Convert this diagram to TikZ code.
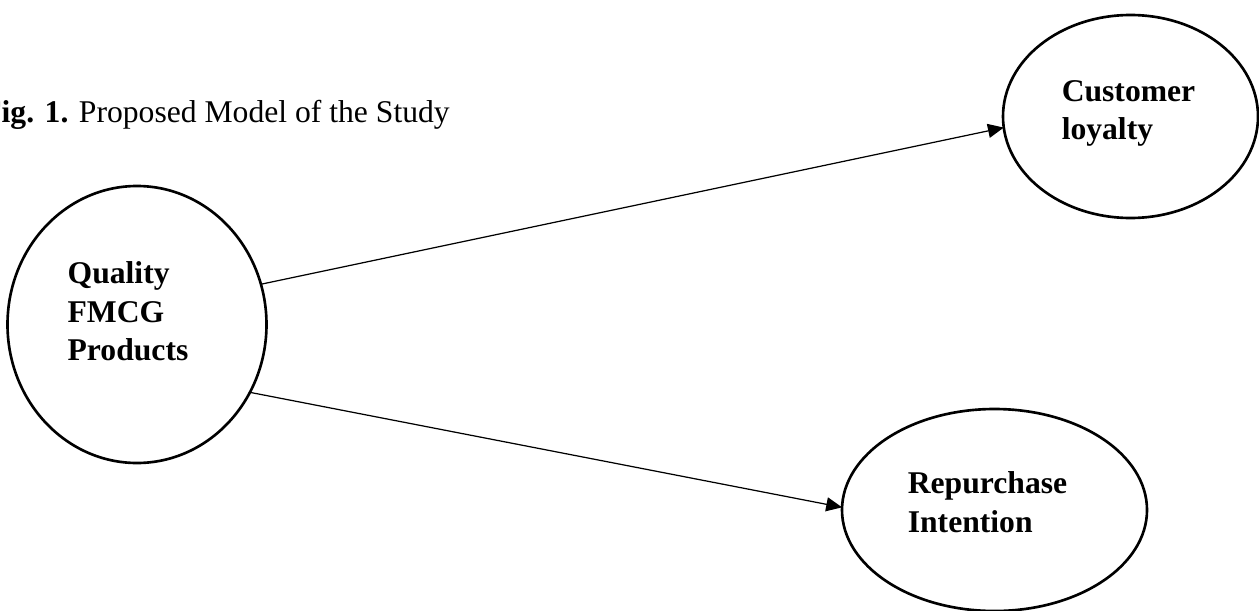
\documentclass[tikz,border=0pt]{standalone}
\usepackage{fontspec}
\setmainfont{Liberation Serif}
\usepackage{xcolor}
\usepackage{tikz}
\usetikzlibrary{
  shapes.geometric, arrows.meta, calc
}
\definecolor{inkblack}{RGB}{0,0,0}
\tikzset{
  construct/.style={
    ellipse, draw=inkblack, line width=1.5pt, outer sep=0pt, inner sep=2pt
  },
  conlabel/.style={
    align=left, inner sep=0pt, label distance=0pt,
    font=\fontsize{18}{22}\selectfont\bfseries, text=inkblack
  },
  caption/.style={
    anchor=base west, inner sep=0pt, font=\fontsize{18}{22}\selectfont,
    text=inkblack
  },
  arrow/.style={-{Triangle[length=9pt, width=8pt]}, line width=0.7pt, color=inkblack}
}

\begin{document}
\begin{tikzpicture}
  \useasboundingbox (0,0) rectangle (25.18,12.2);
  \node[caption] (figcap) at (-0.36,9.76)
    {\textbf{Fig. 1.} Proposed Model of the Study};

  \node[construct, minimum width=5.18cm, minimum height=5.54cm,
    label={[conlabel, xshift=-0.18cm, yshift=0.26cm]center:{Quality\\FMCG\\Products}}]
    (quality) at (2.74,5.71) {};
  \node[construct, minimum width=5.10cm, minimum height=4.06cm,
    label={[conlabel, xshift=-0.04cm, yshift=0.06cm]center:{Customer\\loyalty}}]
    (loyalty) at (22.61,9.87) {};
  \node[construct, minimum width=6.10cm, minimum height=4.04cm,
    label={[conlabel, xshift=-0.14cm, yshift=0.16cm]center:{Repurchase\\Intention}}]
    (repurchase) at (19.89,2.0) {};

  \draw[arrow] (quality.18) -- (loyalty.185);
  \draw[arrow] (quality.-31) -- (repurchase.179);
\end{tikzpicture}
\end{document}
